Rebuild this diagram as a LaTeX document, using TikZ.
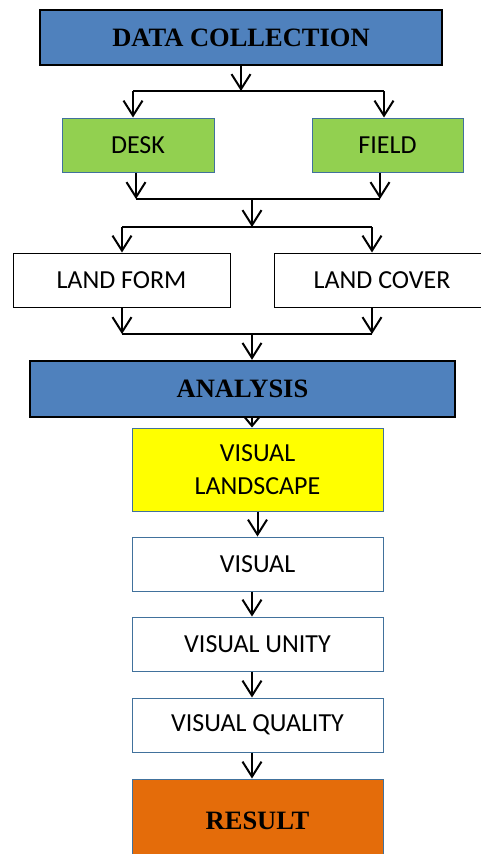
\documentclass[tikz,border=0pt]{standalone}
\usepackage{fontspec}
\setmainfont{Liberation Serif}
\newfontfamily\calibri{Carlito}
\usetikzlibrary{arrows.meta}
\definecolor{hdblue}{HTML}{4F81BD}
\definecolor{deskgreen}{HTML}{92D050}
\definecolor{vlyellow}{HTML}{FFFF00}
\definecolor{resorange}{HTML}{E46C0A}
\definecolor{boxedge}{HTML}{41719C}

\begin{document}
\begin{tikzpicture}[x=1pt, y=-1pt,
  head/.style={draw=black, line width=2.4pt, fill=hdblue, inner sep=0pt, font=\bfseries\fontsize{26.5}{30}\selectfont},
  box/.style={draw=boxedge, line width=1pt, inner sep=0pt, align=center, font=\calibri\fontsize{26}{33}\selectfont},
  arr/.style={-{Straight Barb[length=15pt,width=19pt]}, line width=2pt},
  link/.style={line width=1.6pt}]
\useasboundingbox (0,0) rectangle (480,854);
\node[head, minimum width=402pt, minimum height=55pt] (DC) at (241,37.5) {DATA COLLECTION};
\node[box, fill=deskgreen, minimum width=152pt, minimum height=54pt] (desk) at (138,145) {DESK};
\node[box, fill=deskgreen, minimum width=151pt, minimum height=54pt] (field) at (387.5,145) {FIELD};
\node[box, draw=black, minimum width=217pt, minimum height=54pt] (landform) at (121.5,280) {LAND FORM};
\node[box, draw=black, minimum width=216pt, minimum height=54pt] (landcover) at (382,280) {LAND COVER};
\node[head, minimum width=425pt, minimum height=56pt] (AN) at (242.5,389) {ANALYSIS};
\node[box, fill=vlyellow, minimum width=251pt, minimum height=83pt] (VL) at (257.5,469.5) {VISUAL\\LANDSCAPE};
\node[box, minimum width=251pt, minimum height=54pt] (VS) at (257.5,564) {VISUAL};
\node[box, minimum width=251pt, minimum height=54pt] (VU) at (257.5,644) {VISUAL UNITY};
\node[box, minimum width=251pt, minimum height=54pt] (VQ) at (257.5,725) {VISUAL QUALITY};
\node[box, fill=resorange, minimum width=251pt, minimum height=84pt, font=\bfseries\fontsize{26.5}{30}\selectfont] (RS) at (257.5,821) {RESULT};

\coordinate (J1) at (241,91);
\coordinate (J1L) at (133,91);
\coordinate (J1R) at (384,91);
\coordinate (J2) at (252,199);
\coordinate (J2L) at (136,199);
\coordinate (J2R) at (380,199);
\coordinate (J3) at (252,227);
\coordinate (J3L) at (122,227);
\coordinate (J3R) at (372,227);
\coordinate (J4) at (252,334);
\coordinate (J4L) at (122,334);
\coordinate (J4R) at (372,334);

\draw[arr] (DC.south) -- (J1);
\draw[link] (J1L) -- (J1R);
\draw[arr] (J1L) -- (J1L |- desk.north);
\draw[arr] (J1R) -- (J1R |- field.north);
\draw[arr] (J2L |- desk.south) -- (J2L);
\draw[arr] (J2R |- field.south) -- (J2R);
\draw[link] (J2L) -- (J2R);
\draw[arr] (J2) -- (J3);
\draw[link] (J3L) -- (J3R);
\draw[arr] (J3L) -- (J3L |- landform.north);
\draw[arr] (J3R) -- (J3R |- landcover.north);
\draw[arr] (J4L |- landform.south) -- (J4L);
\draw[arr] (J4R |- landcover.south) -- (J4R);
\draw[link] (J4L) -- (J4R);
\draw[arr] (J4) -- (J4 |- AN.north);
\draw[line width=2pt, -{Straight Barb[length=9pt,width=15pt]}] (AN.south -| J4) -- (VL.north -| J4);
\draw[arr] (VL.south) -- (VS.north);
\draw[arr] (VS.south -| J4) -- (VU.north -| J4);
\draw[arr] (VU.south -| J4) -- (VQ.north -| J4);
\draw[arr] (VQ.south -| J4) -- (RS.north -| J4);
\end{tikzpicture}
\end{document}
